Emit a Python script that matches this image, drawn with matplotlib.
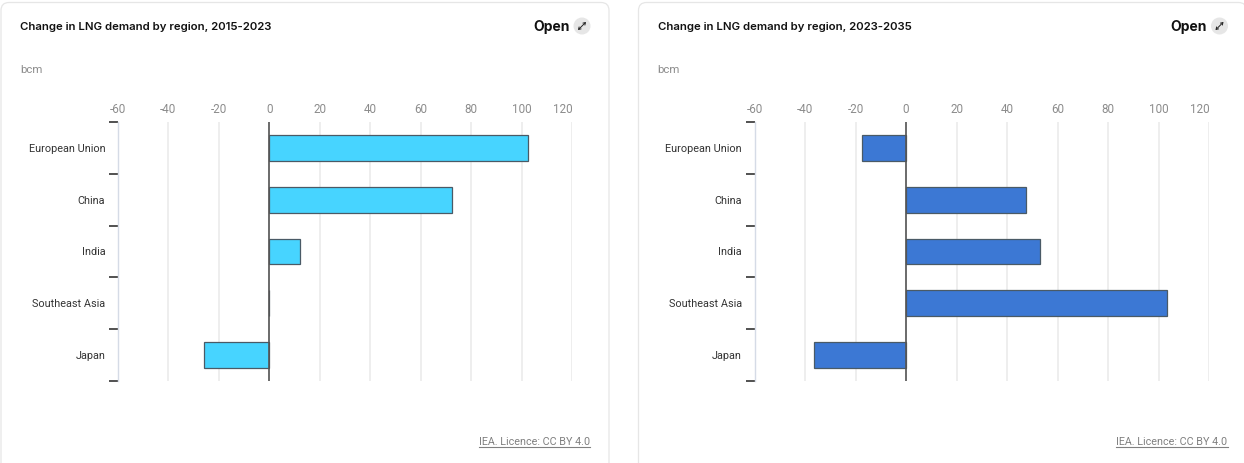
"""Change in LNG demand by region: two side by side bar chart cards."""

import matplotlib
matplotlib.use("Agg")
import matplotlib.pyplot as plt
from matplotlib.patches import Circle, FancyBboxPatch
from matplotlib.transforms import ScaledTranslation

W, H = 1244, 464

regions = ["European Union", "China", "India", "Southeast Asia", "Japan"]
change_2015_2023 = [102.5, 72.5, 12, 0, -26]
change_2023_2035 = [-17.5, 47.5, 53, 103.5, -36.5]
x_ticks = [-60, -40, -20, 0, 20, 40, 60, 80, 100, 120]

title_left = "Change in LNG demand by region, 2015-2023"
title_right = "Change in LNG demand by region, 2023-2035"
unit = "bcm"
open_label = "Open"
licence = "IEA. Licence: CC BY 4.0"

plt.rcParams["font.family"] = ["Roboto", "DejaVu Sans"]
plt.rcParams["axes.unicode_minus"] = False

fig = plt.figure(figsize=(W / 100, H / 100), dpi=100, facecolor="white")

# overlay in pixel coordinates for the card furniture
bg = fig.add_axes([0, 0, 1, 1], zorder=0)
bg.set_xlim(0, W)
bg.set_ylim(H, 0)
bg.axis("off")


def px_shift(dx, dy):
    """Offset transform in screen pixels (figure is saved at dpi 100)."""
    return ScaledTranslation(dx / 100, dy / 100, fig.dpi_scale_trans)


def draw_card(card_x, card_w, title, values, color, axis_left):
    bg.add_patch(FancyBboxPatch((card_x, 3.5), card_w, 470,
                                boxstyle="round,pad=0,rounding_size=8", mutation_scale=1,
                                fc="white", ec="#e6e6e6", lw=0.9))

    bg.text(card_x + 19, 26.5, title, fontsize=8.2, family="Inter", fontweight="semibold",
            color="#111111", va="center", ha="left")
    bg.text(card_x + 19, 70, unit, fontsize=8.2, color="#8c8c8c", va="center", ha="left")

    right = card_x + card_w
    bg.text(right - 39.5, 27, open_label, fontsize=10, family="Inter", fontweight="bold",
            color="#111111", va="center", ha="right")
    bg.add_patch(Circle((right - 27, 27), 8.5, fc="#e6e6e6", ec="none"))
    bg.annotate("", xy=(right - 23, 23), xytext=(right - 31, 31),
                arrowprops=dict(arrowstyle="<->,head_width=0.1,head_length=0.15",
                                color="#222222", lw=0.7, shrinkA=0, shrinkB=0))

    lic_x = right - 19
    t = bg.text(lic_x, 442, licence, fontsize=7.75, color="#808080", va="center", ha="right")
    t_width = t.get_window_extent(fig.canvas.get_renderer()).width
    bg.plot([lic_x - t_width, lic_x], [448, 448], color="#808080", lw=0.8)

    # -60..120 spans 454.5 px, bands run from y=122 to y=381
    ax = fig.add_axes([axis_left / W, 1 - 382 / H, 454.5 / W, 259 / H], zorder=1)
    ax.patch.set_alpha(0)
    ax.set_xlim(-60, 120)
    ax.set_ylim(len(regions) - 0.5, -0.5)

    ax.barh(range(len(regions)), values, height=0.5, color=color, edgecolor="#4a5a66",
            linewidth=0.9, zorder=3)
    ax.axvline(0, color="#555555", lw=1.2, zorder=4)

    ax.grid(True, axis="x", color="#e9e9e9", lw=1.1, zorder=0)
    ax.set_axisbelow(True)
    for side in ["top", "right", "bottom"]:
        ax.spines[side].set_visible(False)
    ax.spines["left"].set_color("#d5dbe6")
    ax.spines["left"].set_linewidth(1)

    ax.xaxis.tick_top()
    ax.set_xticks(x_ticks)
    ax.tick_params(axis="x", length=0, pad=5, labelsize=8.4, labelcolor="#8c8c8c")
    # the last label is pulled back inside the plot, as in the source
    last = ax.get_xticklabels()[-1]
    last.set_transform(last.get_transform() + px_shift(-9, 0))

    # ticks at the band edges, labels centred in the band
    ax.set_yticks([i - 0.5 for i in range(len(regions) + 1)], labels=[])
    ax.tick_params(axis="y", which="major", length=6.5, width=1.1, color="#222222")
    ax.set_yticks(range(len(regions)), labels=regions, minor=True)
    ax.tick_params(axis="y", which="minor", length=0, pad=9, labelsize=7.8, labelcolor="#333333")
    for label in ax.get_yticklabels(minor=True):
        label.set_transform(label.get_transform() + px_shift(0, 1))


draw_card(1, 608, title_left, change_2015_2023, "#47d4ff", 117.7)
draw_card(638.5, 608, title_right, change_2023_2035, "#3c78d4", 754.6)

fig.savefig("out.png", dpi=100)
